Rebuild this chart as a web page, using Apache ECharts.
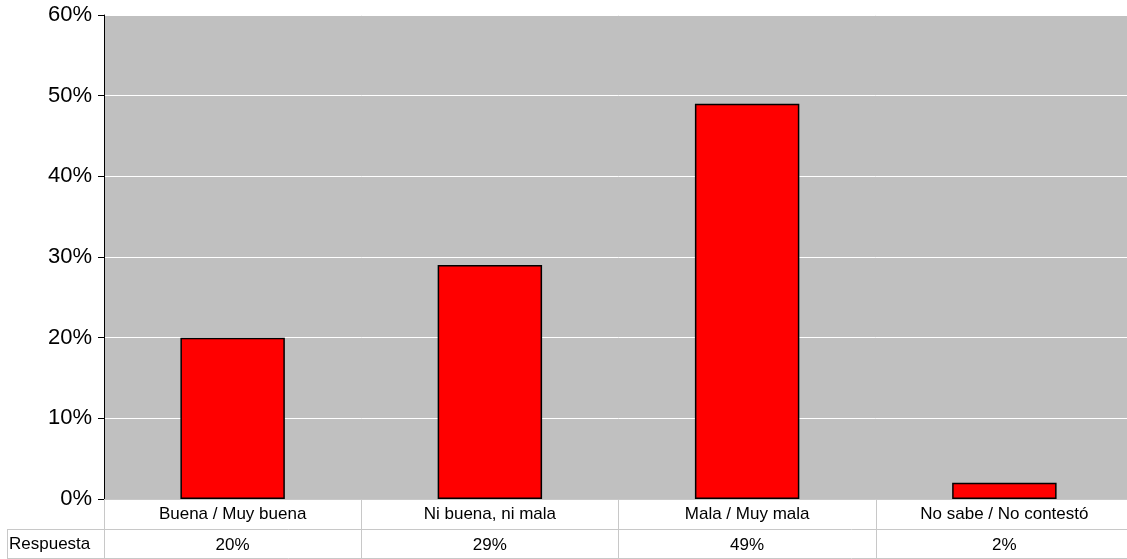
<!DOCTYPE html>
<html>
<head>
<meta charset="utf-8">
<script src="https://cdn.jsdelivr.net/npm/echarts@6/dist/echarts.min.js"></script>
<style>html,body{margin:0;padding:0;background:#fff;overflow:hidden;width:1127px;height:559px}#c{width:1133px;height:559px}</style>
</head>
<body>
<div id="c"></div>
<script>
const categories = ['Buena / Muy buena', 'Ni buena, ni mala', 'Mala / Muy mala', 'No sabe / No contestó'];
const values = [20, 29, 49, 2];
const yTicks = [0, 10, 20, 30, 40, 50, 60];
const rowName = 'Respuesta';

const chart = echarts.init(document.getElementById('c'), null, {renderer: 'canvas'});
const font = 'Liberation Sans, Arial, sans-serif';
chart.setOption({
  animation: false,
  backgroundColor: '#ffffff',
  grid: {left: 104, right: 0, top: 15, bottom: 60, show: true, backgroundColor: '#c0c0c0', borderWidth: 0},
  xAxis: [{
    type: 'category',
    data: categories,
    position: 'bottom',
    axisLine: {show: true, lineStyle: {color: '#c8c8c8', width: 1}},
    axisTick: {show: true, length: 60, alignWithLabel: false, lineStyle: {color: '#c8c8c8', width: 1}},
    axisLabel: {color: '#000', fontFamily: font, fontSize: 17, margin: 7, interval: 0},
    splitLine: {show: false}
  }, {
    type: 'category',
    data: values.map(v => v + '%'),
    position: 'bottom',
    axisLine: {show: false},
    axisTick: {show: false},
    axisLabel: {color: '#000', fontFamily: font, fontSize: 17, margin: 38, interval: 0},
    splitLine: {show: false}
  }],
  yAxis: {
    type: 'value',
    min: yTicks[0],
    max: yTicks[yTicks.length - 1],
    interval: 10,
    axisLine: {show: true, lineStyle: {color: '#000', width: 1}},
    axisTick: {show: true, length: 6, lineStyle: {color: '#000', width: 1}},
    axisLabel: {color: '#000', fontFamily: font, fontSize: 22, margin: 12, formatter: v => v + '%'},
    splitLine: {show: true, lineStyle: {color: '#ffffff', width: 1}}
  },
  series: [{
    type: 'bar',
    data: values,
    barWidth: '40.6%',
    itemStyle: {color: '#ff0000', borderColor: '#000000', borderWidth: 1.5}
  }],
  graphic: [
    {type: 'line', shape: {x1: 7, y1: 529.5, x2: 1133, y2: 529.5}, style: {stroke: '#c8c8c8', lineWidth: 1}, z: 10},
    {type: 'line', shape: {x1: 7, y1: 558.5, x2: 1133, y2: 558.5}, style: {stroke: '#c8c8c8', lineWidth: 1}, z: 10},
    {type: 'line', shape: {x1: 7.5, y1: 529, x2: 7.5, y2: 559}, style: {stroke: '#c8c8c8', lineWidth: 1}, z: 10},
    {type: 'text', left: 9, top: 536, style: {text: rowName, fill: '#000', font: '17px ' + font}, z: 10}
  ]
});
</script>
</body>
</html>
